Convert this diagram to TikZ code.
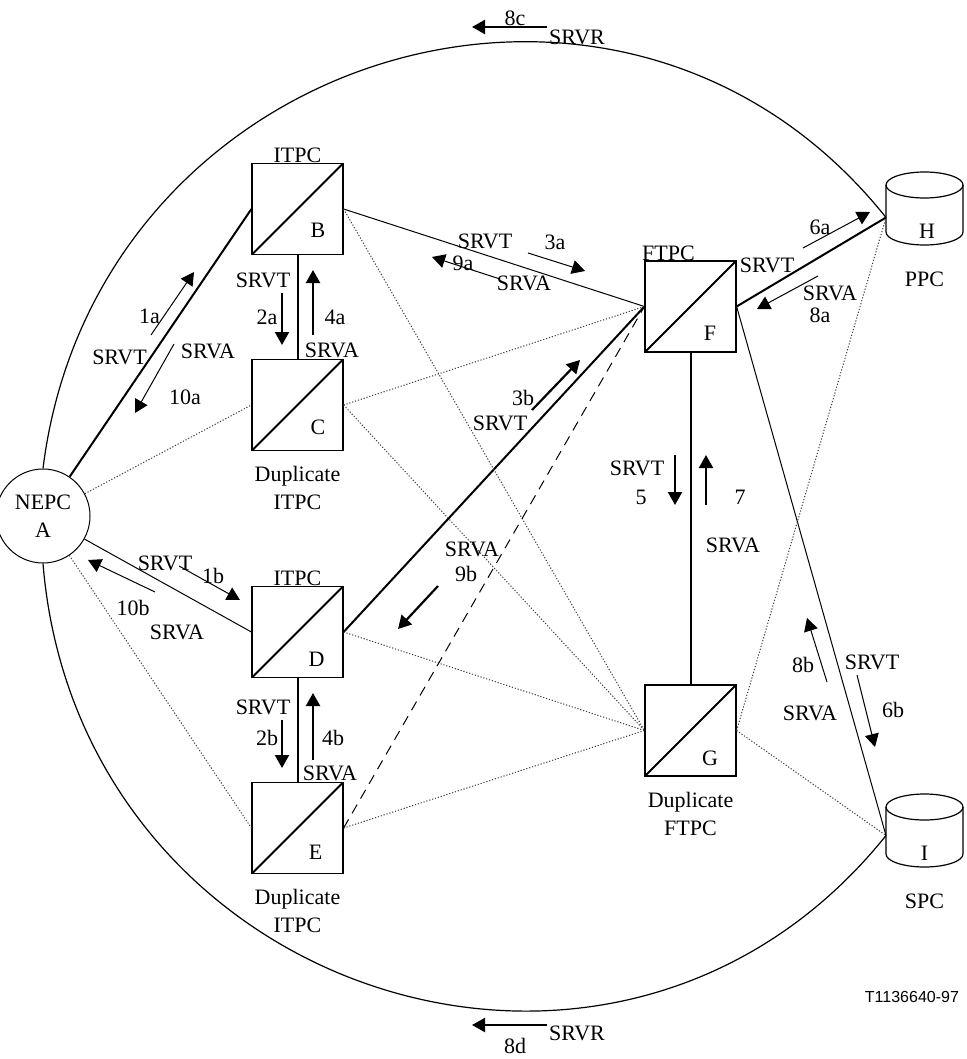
\documentclass[tikz,border=0pt]{standalone}
\usepackage{fontspec}
\setmainfont{Liberation Serif}
\newfontfamily\codefont{Liberation Sans}
\usetikzlibrary{arrows.meta}
\usetikzlibrary{positioning}

\tikzset{
  tpc/.style={draw, line width=0.6pt, minimum size=45.5pt, inner sep=0pt,
    path picture={\draw[line width=1pt] (path picture bounding box.south west) -- (path picture bounding box.north east);}},
  store/.style={minimum width=38.5pt, minimum height=36.5pt, inner sep=0pt, outer sep=0pt},
  link/.style={line width=0.5pt},
  trunk/.style={line width=1pt},
  spare/.style={line width=0.5pt, black!75, dash pattern=on 0.6pt off 0.9pt},
  backup/.style={line width=0.5pt, dash pattern=on 5pt off 3.5pt},
  msg/.style={line width=0.5pt, -{Triangle[length=6.5pt,width=7pt]}},
  bigmsg/.style={line width=1.1pt, -{Triangle[length=6.5pt,width=7pt]}},
}
\newcommand{\drum}[1]{%
  \draw[line width=0.6pt] ([yshift=-6.5pt]#1.north west) -- ([yshift=6.5pt]#1.south west)
    arc[start angle=180, end angle=360, x radius=19.25pt, y radius=6.5pt]
    -- ([yshift=-6.5pt]#1.north east);
  \draw[line width=0.6pt] ([yshift=-6.5pt]#1.north) ellipse[x radius=19.25pt, y radius=6.5pt];}

\begin{document}
\begin{tikzpicture}[x=0.5pt, y=-0.5pt, font=\fontsize{11}{14}\selectfont]
\useasboundingbox (0,0) rectangle (967,1059);

%exchanges
\node[draw, circle, line width=0.5pt, minimum size=47pt, inner sep=0pt, align=center] (A) at (43,516) {NEPC\\A};
\node[tpc] (B) at (297.5,209) {};
\node[tpc] (C) at (297.5,405) {};
\node[tpc] (D) at (297.5,632) {};
\node[tpc] (E) at (297.5,828) {};
\node[tpc] (F) at (690.5,306.5) {};
\node[tpc] (G) at (690.5,730.5) {};
\node[store] (H) at (924.5,208.5) {};
\node[store] (I) at (924.5,830.5) {};
\drum{H}
\drum{I}
\coordinate (Hp) at ([yshift=-4.5pt]H.west);
\coordinate (Ip) at ([yshift=-2.5pt]I.west);

%letters and names
\node (lB) at ([xshift=10.25pt,yshift=-10.5pt]B.center) {B};
\node (lC) at ([xshift=10.25pt,yshift=-11pt]C.center) {C};
\node (lD) at ([xshift=9.5pt,yshift=-13.5pt]D.center) {D};
\node (lE) at ([xshift=9pt,yshift=-12pt]E.center) {E};
\node (lF) at ([xshift=9.75pt,yshift=-13.25pt]F.center) {F};
\node (lG) at ([xshift=9.75pt,yshift=-13.75pt]G.center) {G};
\node (lH) at ([xshift=1.25pt,yshift=-11.5pt]H.center) {H};
\node (lI) at ([yshift=-11.25pt]I.center) {I};
\node[anchor=base] (nB) at (B.north) {ITPC};
\node[anchor=base] (nD) at (D.north) {ITPC};
\node[anchor=base] (nF) at ([xshift=-11pt]F.north) {FTPC};
\node[align=center] (nC) at ([yshift=-18.5pt]C.south) {Duplicate\\ITPC};
\node[align=center] (nE) at ([yshift=-18.5pt]E.south) {Duplicate\\ITPC};
\node[align=center] (nG) at ([yshift=-18.5pt]G.south) {Duplicate\\FTPC};
\node (nH) at ([yshift=-17pt]H.south) {PPC};
\node (nI) at ([yshift=-17pt]I.south) {SPC};

%ring
\draw[line width=0.6pt] (A.north) .. controls (95,50) and (623,-112) .. (Hp);
\draw[line width=0.6pt] (A.south) .. controls (78,994) and (616,1172) .. (Ip);

%solid links
\draw[trunk] (A) -- (B.west);
\draw[trunk] (B) -- (C);
\draw[trunk] (D) -- (E);
\draw[trunk] (D.east) -- (F.west);
\draw[trunk] (F) -- (G);
\draw[trunk] (F.east) -- (Hp);
\draw[link] (A) -- (D.west);
\draw[link] (B.east) -- (F.west);
\draw[link] (F.east) -- (Ip);

%dotted and dashed links
\draw[spare] (A) -- (C.west);
\draw[spare] (A) -- (E.west);
\draw[spare] (B.east) -- (G.west);
\draw[spare] (C.east) -- (F.west);
\draw[spare] (C.east) -- (G.west);
\draw[spare] (D.east) -- (G.west);
\draw[spare] (E.east) -- (G.west);
\draw[spare] (G.east) -- (Hp);
\draw[spare] (G.east) -- (Ip);
\draw[backup] (E.east) -- (F.west);

%A--B messages
\draw[msg] (151,335) -- (194,272);
\draw[msg] (174,344) -- (135,413);
\node (m1a) at (149.5,316) {1a};
\node (s1a) at (119.5,357) {SRVT};
\node (s10a) at (208,351) {SRVA};
\node (m10a) at (185,397) {10a};

%A--D messages
\draw[msg] (179,566) -- (240,600);
\draw[msg] (155,592) -- (88,560);
\node (s1b) at (165,563) {SRVT};
\node (m1b) at (213,576) {1b};
\node (m10b) at (133,608) {10b};
\node (s10b) at (177,632) {SRVA};

%B--C messages
\draw[bigmsg] (282,293) -- (282,345);
\draw[bigmsg] (313,335) -- (313,270);
\node (s2a) at (263,280) {SRVT};
\node (m2a) at (267,317) {2a};
\node (m4a) at (335,317) {4a};
\node (s4a) at (332,350) {SRVA};

%D--E messages
\draw[bigmsg] (282,720) -- (282,768);
\draw[bigmsg] (313,760) -- (313,693);
\node (s2b) at (263,707) {SRVT};
\node (m2b) at (267,738) {2b};
\node (m4b) at (333,738) {4b};
\node (s4b) at (330,773) {SRVA};

%B--F messages
\draw[msg] (528,253) -- (585,271);
\draw[msg] (500,279) -- (432,257);
\node (s3a) at (485,241) {SRVT};
\node (m3a) at (555,242) {3a};
\node (m9a) at (463,263) {9a};
\node (s9a) at (524,283) {SRVA};

%D--F messages
\draw[bigmsg] (532,410) -- (580,360);
\draw[bigmsg] (438,586) -- (398,629);
\node (m3b) at (523,398) {3b};
\node (s3b) at (500,423) {SRVT};
\node (s9b) at (472,549) {SRVA};
\node (m9b) at (466,574) {9b};

%F--G messages
\draw[bigmsg] (675,455) -- (675,505);
\draw[bigmsg] (706,505) -- (706,455);
\node (s5) at (637,468) {SRVT};
\node (m5) at (641,497) {5};
\node (m7) at (740,497) {7};
\node (s7) at (733,545) {SRVA};

%F--H messages
\draw[msg] (803,248) -- (870,212);
\draw[msg] (818,276) -- (757,309);
\node (m6a) at (820,227) {6a};
\node (s6a) at (767,265) {SRVT};
\node (s8a) at (830,293) {SRVA};
\node (m8a) at (820,315) {8a};

%F--I messages
\draw[msg] (857,675) -- (875,747);
\draw[msg] (827,682) -- (807,618);
\node (s6b) at (872,662) {SRVT};
\node (m6b) at (893,710) {6b};
\node (m8b) at (803,665) {8b};
\node (s8b) at (810,713) {SRVA};

%ring messages
\draw[bigmsg] (547,27) -- (472,27);
\node (m8c) at (515,18) {8c};
\node (s8c) at (577,37) {SRVR};
\draw[bigmsg] (547,1025) -- (472,1025);
\node (s8d) at (577,1033) {SRVR};
\node (m8d) at (515,1046) {8d};

\node[anchor=east, font=\codefont\fontsize{8}{9}\selectfont] (code) at (966,997) {T1136640-97};
\end{tikzpicture}
\end{document}
